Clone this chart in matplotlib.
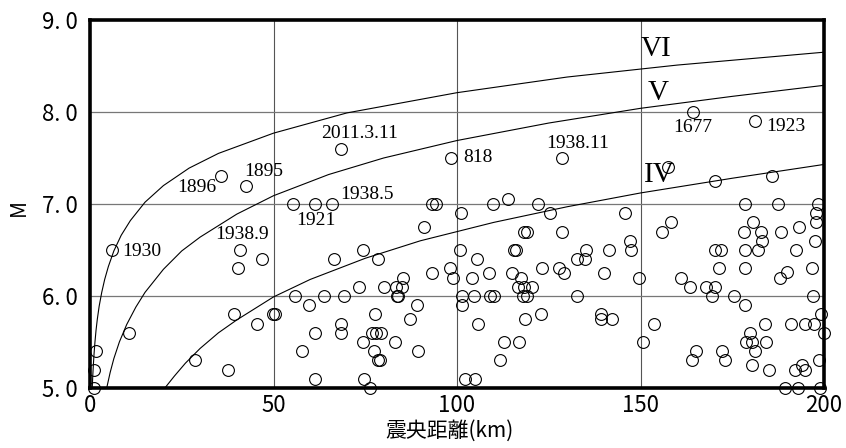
import matplotlib
matplotlib.use("Agg")
import matplotlib.pyplot as plt

# ---- data (epicentral distance km, magnitude) ----
dist = [1.2, 1.2, 1.7, 6.1, 10.6, 28.7, 37.7, 39.2, 40.2, 40.8, 47.0, 45.6, 49.8, 50.5, 35.8, 42.4,
        55.2, 61.2, 65.9, 68.5, 98.5, 93.3, 94.2, 101.0, 109.8, 114.0, 122.2, 125.3, 128.7,
        91.0, 74.5, 78.6, 66.6, 100.7, 105.5, 115.5, 116.0, 132.7, 134.8, 135.1, 118.3, 119.2, 128.7,
        93.3, 98.0, 98.8, 104.1, 108.7, 115.0, 117.4, 123.1, 127.9, 129.1, 85.3,
        73.3, 80.0, 83.4, 85.1, 116.5, 118.3, 120.5,
        55.9, 63.7, 69.2, 83.7, 84.0, 101.3, 104.6, 108.9, 110.0, 118.0, 119.0, 132.7,
        59.6, 89.0, 101.3, 77.6, 122.8, 87.1, 118.5, 105.7, 68.3, 61.4, 68.3, 76.8, 78.0, 79.4,
        74.3, 83.0, 112.8, 116.8, 57.9, 77.3, 89.3, 78.4, 78.9, 111.6, 61.4, 74.7, 102.3, 104.9, 76.3,
        164.2, 181.2, 157.4, 170.4, 185.8, 145.9, 178.5, 187.5, 198.3, 197.9, 197.9, 158.4, 155.9,
        180.6, 178.1, 182.7, 183.2, 188.3, 193.3, 197.6, 147.1, 147.3, 141.4, 170.2, 171.8, 178.5,
        182.1, 192.4, 171.5, 178.5, 189.8, 188.0, 196.8, 140.1, 149.5, 161.1, 163.6, 167.9, 170.4,
        169.5, 175.6, 178.6, 197.1, 199.2, 200.0, 139.3, 139.3, 142.2, 153.8, 150.6, 190.9, 194.7,
        197.4, 183.8, 179.9, 178.8, 180.3, 181.3, 184.1, 180.3, 184.9, 165.2, 164.0, 172.3, 172.9,
        198.6, 192.1, 194.1, 194.7, 189.5, 192.9, 198.8]
mag = [5.0, 5.2, 5.4, 6.5, 5.6, 5.3, 5.2, 5.8, 6.3, 6.5, 6.4, 5.7, 5.8, 5.8, 7.3, 7.2,
       7.0, 7.0, 7.0, 7.6, 7.5, 7.0, 7.0, 6.9, 7.0, 7.05, 7.0, 6.9, 7.5,
       6.75, 6.5, 6.4, 6.4, 6.5, 6.4, 6.5, 6.5, 6.4, 6.4, 6.5, 6.7, 6.7, 6.7,
       6.25, 6.3, 6.2, 6.2, 6.25, 6.25, 6.2, 6.3, 6.3, 6.25, 6.2,
       6.1, 6.1, 6.1, 6.1, 6.1, 6.1, 6.1,
       6.0, 6.0, 6.0, 6.0, 6.0, 6.0, 6.0, 6.0, 6.0, 6.0, 6.0, 6.0,
       5.9, 5.9, 5.9, 5.8, 5.8, 5.75, 5.75, 5.7, 5.7, 5.6, 5.6, 5.6, 5.6, 5.6,
       5.5, 5.5, 5.5, 5.5, 5.4, 5.4, 5.4, 5.3, 5.3, 5.3, 5.1, 5.1, 5.1, 5.1, 5.0,
       8.0, 7.9, 7.4, 7.25, 7.3, 6.9, 7.0, 7.0, 7.0, 6.9, 6.8, 6.8, 6.7,
       6.8, 6.7, 6.7, 6.6, 6.7, 6.75, 6.6, 6.6, 6.5, 6.5, 6.5, 6.5, 6.5,
       6.5, 6.5, 6.3, 6.3, 6.26, 6.2, 6.3, 6.25, 6.2, 6.2, 6.1, 6.1, 6.1,
       6.0, 6.0, 5.9, 6.0, 5.8, 5.6, 5.8, 5.75, 5.75, 5.7, 5.5, 5.7, 5.7,
       5.7, 5.7, 5.6, 5.5, 5.5, 5.4, 5.5, 5.25, 5.2, 5.4, 5.3, 5.4, 5.3,
       5.3, 5.2, 5.25, 5.2, 5.0, 5.0, 5.0]

# labelled events
event_names = ["1930", "1896", "1895", "1938.9", "1921", "1938.5", "2011.3.11",
               "818", "1938.11", "1677", "1923"]
event_text_x = [8.9, 34.4, 42.1, 34.2, 56.3, 68.3, 63.0, 101.6, 124.4, 158.8, 184.2]
event_text_m = [6.485, 7.175, 7.357, 6.672, 6.824, 7.10, 7.77, 7.51, 7.66, 7.83, 7.84]

# intensity boundary curves
vi_d = [0.61, 0.75, 0.9, 1.1, 1.35, 1.65, 2.0, 2.5, 3.2, 4.0, 5.0, 6.5, 8.5, 11, 15, 20, 27, 35,
        50, 70, 100, 130, 160, 200]
vi_m = [5.0, 5.13, 5.24, 5.37, 5.5, 5.63, 5.75, 5.89, 6.04, 6.18, 6.32, 6.49, 6.66, 6.82, 7.02,
        7.2, 7.39, 7.55, 7.77, 7.99, 8.21, 8.38, 8.51, 8.65]
v_d = [4.55, 5.5, 6.5, 8, 10, 12.5, 15, 20, 25, 30, 40, 50, 65, 80, 100, 125, 150, 175, 200]
v_m = [5.0, 5.17, 5.32, 5.5, 5.69, 5.88, 6.04, 6.29, 6.49, 6.64, 6.89, 7.09, 7.32, 7.5, 7.69,
       7.88, 8.04, 8.17, 8.29]
iv_d = [20.4, 23, 26, 30, 35, 40, 50, 60, 75, 90, 110, 130, 150, 175, 200]
iv_m = [5.0, 5.13, 5.27, 5.43, 5.6, 5.74, 5.99, 6.18, 6.41, 6.6, 6.8, 6.97, 7.12, 7.28, 7.43]
curve_names = ["VI", "V", "IV"]

x_ticks = [0, 50, 100, 150, 200]
y_ticks = [5.0, 6.0, 7.0, 8.0, 9.0]
y_ticklabels = ["5. 0", "6. 0", "7. 0", "8. 0", "9. 0"]

sans = ["Noto Sans CJK JP", "DejaVu Sans"]
serif = ["Liberation Serif", "DejaVu Serif"]

fig = plt.figure(figsize=(8.46, 4.48), dpi=100)
ax = fig.add_axes([90 / 846, 1 - 388 / 448, (824 - 90) / 846, (388 - 20) / 448])
ax.set_xlim(0, 200)
ax.set_ylim(5.0, 9.0)

for v in [50, 100, 150]:
    ax.axvline(v, color="#555555", lw=0.8, zorder=1)
for v in [6.0, 7.0, 8.0]:
    ax.axhline(v, color="#777777", lw=0.9, zorder=1)

for d, m in [(vi_d, vi_m), (v_d, v_m), (iv_d, iv_m)]:
    ax.plot(d, m, color="black", lw=0.8, zorder=2)

ax.plot(dist, mag, linestyle="none", marker="o", ms=8.5, mfc="none", mec="black",
        mew=0.8, clip_on=False, zorder=3)

for name, tx, tm in zip(event_names, event_text_x, event_text_m):
    ha = "right" if name == "1896" else "left"
    ax.text(tx, tm, name, ha=ha, va="center", fontsize=14, family=serif, zorder=4)

for name, tx, tm in zip(curve_names, [150.0, 152.0, 151.0], [8.69, 8.21, 7.32]):
    ax.text(tx, tm, name, ha="left", va="center", fontsize=21, family=serif, zorder=4)

for s in ax.spines.values():
    s.set_linewidth(2.6)
    s.set_zorder(5)

ax.set_xticks(x_ticks)
ax.set_xticklabels([str(t) for t in x_ticks], family=sans, fontsize=16)
ax.set_yticks(y_ticks)
ax.set_yticklabels(y_ticklabels, family=sans, fontsize=16)
ax.tick_params(axis="both", length=0)
ax.tick_params(axis="x", pad=4)
ax.tick_params(axis="y", pad=9)

ax.text(0.49, -0.115, "震央距離(km)", transform=ax.transAxes, ha="center", va="center",
        fontsize=15, family=sans)
ax.text(-0.097, 0.49, "M", transform=ax.transAxes, ha="center", va="center",
        rotation=90, fontsize=15, family=sans)

fig.savefig("out.png", dpi=100)
